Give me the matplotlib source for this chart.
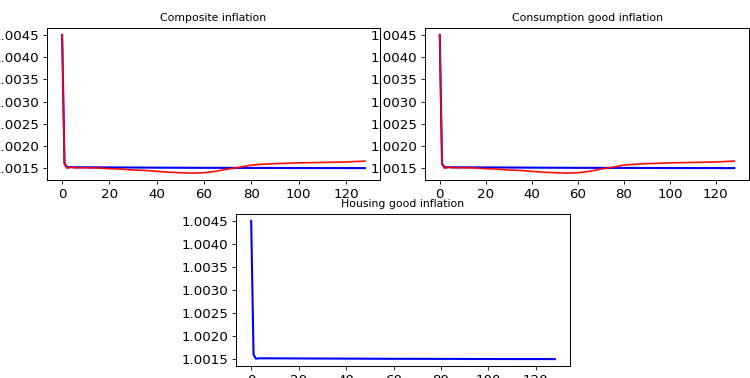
import matplotlib
matplotlib.use("Agg")
import matplotlib.pyplot as plt

periods = [0, 1, 2, 3, 4, 5, 8, 10, 15, 20, 25, 30, 35, 40, 45, 50, 55, 60,
           65, 70, 75, 80, 85, 90, 100, 110, 120, 128]

# blue: baseline path
blue_infl = [1.0045, 1.0016, 1.00153, 1.001522, 1.001522, 1.001521, 1.001521,
             1.00152, 1.001519, 1.001518, 1.001517, 1.001515, 1.001514,
             1.001512, 1.001511, 1.00151, 1.001509, 1.001508, 1.001508,
             1.001507, 1.001507, 1.001506, 1.001506, 1.001505, 1.001504,
             1.001503, 1.001503, 1.001502]

# red: alternative path (composite and consumption good)
red_infl = [1.0045, 1.0016, 1.00150, 1.00151, 1.00153, 1.00151, 1.00151,
            1.00151, 1.001505, 1.00149, 1.00148, 1.00146, 1.00145, 1.00143,
            1.00141, 1.001398, 1.00139, 1.001398, 1.00143, 1.00148, 1.00152,
            1.00157, 1.00159, 1.001602, 1.00162, 1.00163, 1.00164, 1.00166]

# housing good: only the blue path
housing_infl = [1.0045, 1.0016, 1.00151, 1.001518, 1.001519, 1.001519,
                1.001519, 1.001518, 1.001517, 1.001516, 1.001515, 1.001514,
                1.001513, 1.001512, 1.001511, 1.00151, 1.001509, 1.001508,
                1.001508, 1.001507, 1.001507, 1.001506, 1.001506, 1.001505,
                1.001504, 1.001503, 1.001503, 1.001502]

titles = ["Composite inflation", "Consumption good inflation", "Housing good inflation"]

W, H = 750, 378
fig = plt.figure(figsize=(7.5, 3.78), dpi=100)


def box(left, top, right, bottom):
    return [left / W, 1 - bottom / H, (right - left) / W, (bottom - top) / H]


ax1 = fig.add_axes(box(47, 28, 380, 180))
ax2 = fig.add_axes(box(425, 28, 749, 180))
ax3 = fig.add_axes(box(236, 214, 570, 366))

for ax in (ax1, ax2):
    ax.plot(periods, blue_infl, color="blue", lw=1.5)
    ax.plot(periods, red_infl, color="red", lw=1.2, alpha=0.95)
ax3.plot(periods, housing_infl, color="blue", lw=1.5)

for ax, t in zip((ax1, ax2, ax3), titles):
    ax.set_title(t, fontsize=7.8, pad=5)
    ax.set_xticks([0, 20, 40, 60, 80, 100, 120])
    ax.set_yticks([1.0015, 1.0020, 1.0025, 1.0030, 1.0035, 1.0040, 1.0045])
    ax.set_yticklabels([f"{v:.4f}" for v in ax.get_yticks()])
    ax.tick_params(labelsize=9.6, length=2.8, width=0.6, pad=2.6)
    for s in ax.spines.values():
        s.set_linewidth(0.7)

fig.savefig("out.png", dpi=100)
